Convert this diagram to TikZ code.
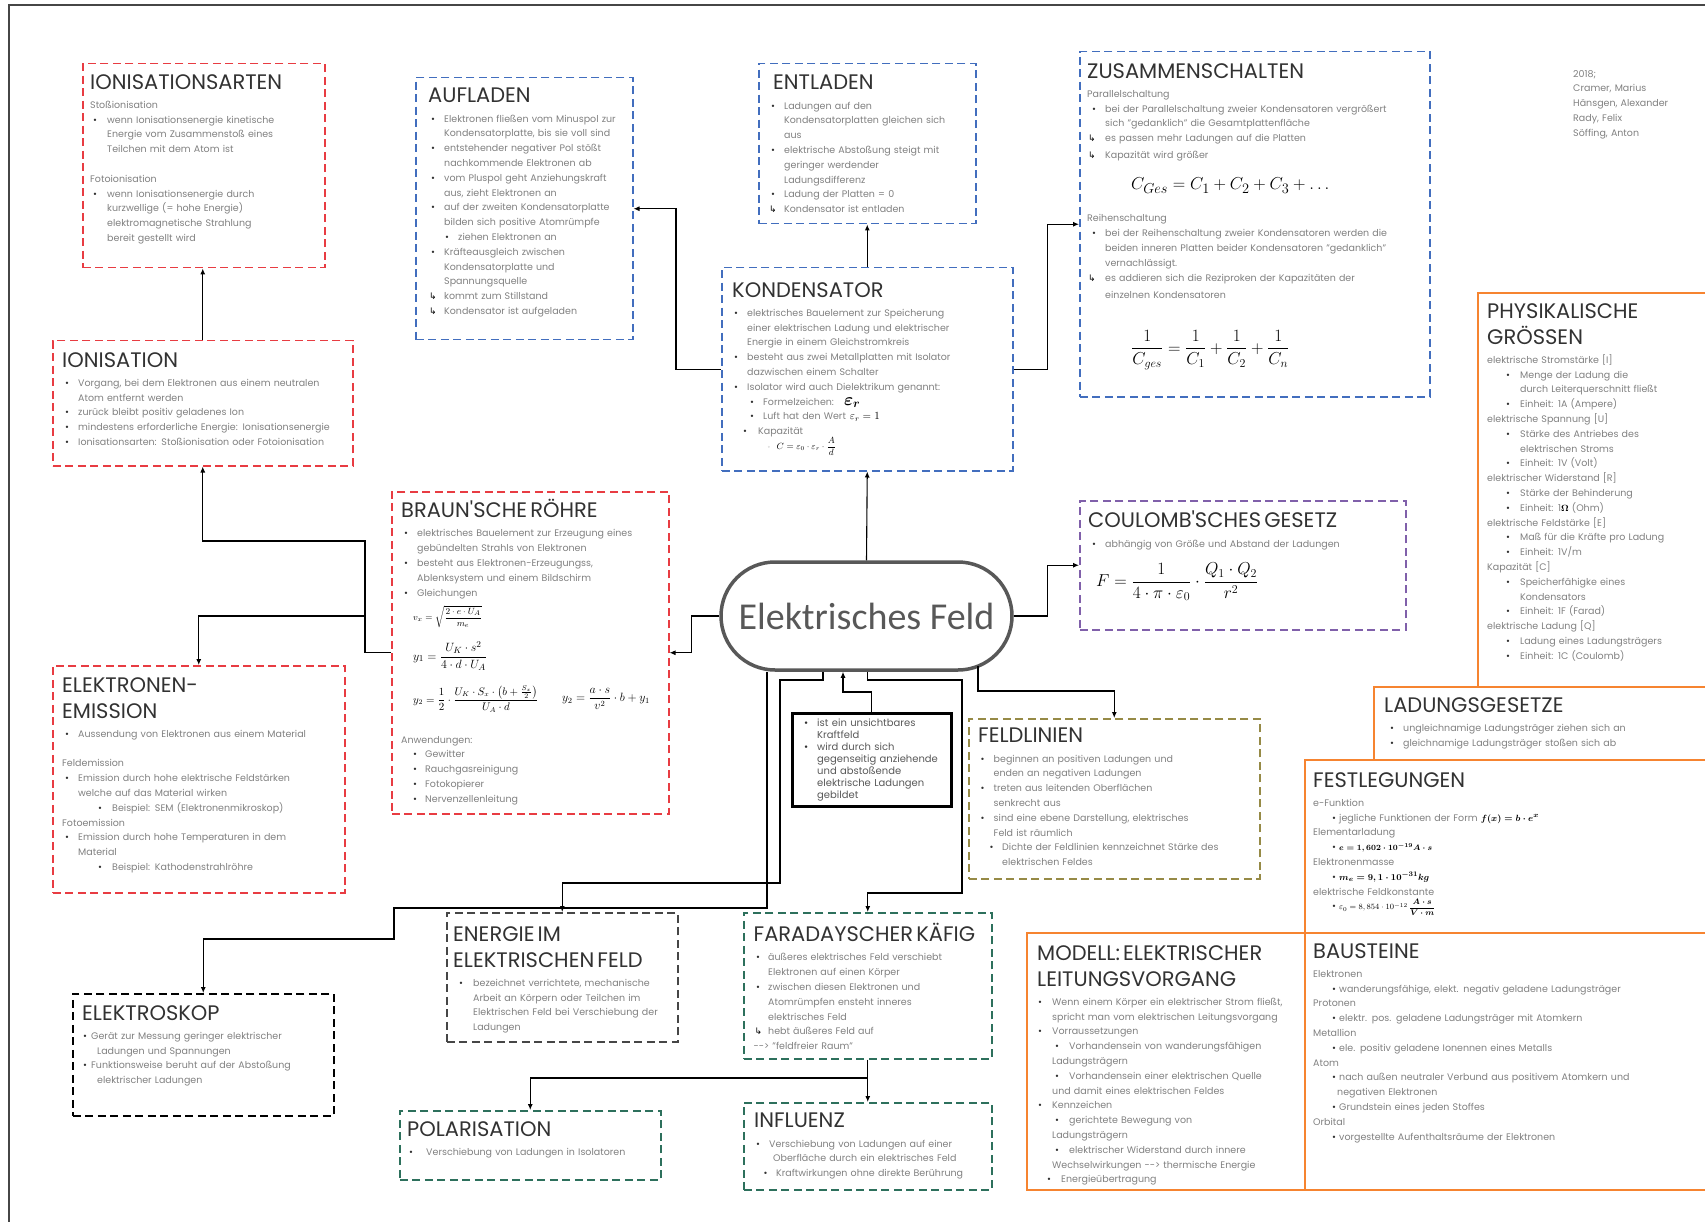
\documentclass[tikz,border=0pt]{standalone}
\usepackage{amsmath}
\usepackage[no-math]{fontspec}
\setmainfont{Poppins}
\newfontfamily\symfont{DejaVu Sans}
\newfontfamily\feldfont{Carlito}
\usetikzlibrary{arrows.meta}
\definecolor{ionred}{RGB}{232,60,66}
\definecolor{kondblue}{RGB}{66,110,190}
\definecolor{coulviolet}{RGB}{128,96,170}
\definecolor{feldolive}{RGB}{150,138,70}
\definecolor{farteal}{RGB}{45,112,92}
\definecolor{energray}{RGB}{70,70,70}
\definecolor{physorange}{RGB}{246,132,48}
\definecolor{txtgray}{RGB}{128,128,128}
\definecolor{titlegray}{RGB}{50,50,50}
\definecolor{feldgray}{RGB}{88,88,88}
\definecolor{framegray}{RGB}{70,70,70}
\newcommand{\bodysize}{\fontsize{9.5}{14.8}\selectfont}
\newcommand{\boxtitle}[1]{{\fontsize{21}{26}\selectfont\color{titlegray}#1\par}\vspace{4.5pt}}
\newcommand{\brk}{\hfil\break}
\newcommand{\hd}[1]{\par\noindent#1\par}
\newcommand{\itmh}[4]{\par\hangindent=#3\hangafter=1\noindent\hbox to #2{\hspace{#1}\textcolor{titlegray}{\textbullet}\hfil}\begingroup\let\\\brk#4\endgroup\par}
\newcommand{\itmx}[3]{\itmh{#1}{#2}{#2}{#3}}
\newcommand{\itm}[1]{\itmx{3pt}{16pt}{#1}}
\newcommand{\hkx}[2]{\par\hangindent=#1\hangafter=1\noindent\hbox to #1{\hspace{1pt}{\symfont\fontsize{9}{10}\selectfont\color{black}↳}\hfil}\begingroup\let\\\brk#2\endgroup\par}
\newcommand{\hk}[1]{\hkx{16pt}{#1}}
\newcommand{\mth}[1]{\textcolor{black}{$#1$}}
\tikzset{
  dbox/.style={draw=#1, line width=1.5pt, dash pattern=on 8pt off 4.5pt, anchor=north west, inner sep=0pt},
  obox/.style={draw=physorange, line width=2.2pt, anchor=north west, inner sep=0pt},
  txt/.style={anchor=north west, inner sep=0pt, text width=#1, align=left, font=\bodysize, text=txtgray},
  fml/.style={anchor=west, inner sep=0pt, text=black},
  conn/.style={draw=black, line width=1.1pt, -{Latex[length=6pt,width=5pt]}},
}

\begin{document}
\begin{tikzpicture}[x=1pt,y=-1pt]
\useasboundingbox (0,0) rectangle (1705,1222);
\draw[framegray, line width=1.5pt] (9,1222) -- (9,5);
\draw[framegray, line width=2.8pt] (8,5) -- (1705,5);
%boxes
\node[dbox=ionred, minimum width=242pt, minimum height=204pt] (ionarten) at (82,63) {};
\node[dbox=ionred, minimum width=300pt, minimum height=125pt] (ionisation) at (52,340) {};
\node[dbox=kondblue, minimum width=217pt, minimum height=262pt] (aufladen) at (415,77) {};
\node[dbox=kondblue, minimum width=217pt, minimum height=160pt] (entladen) at (758,63) {};
\node[dbox=kondblue, minimum width=350pt, minimum height=345pt] (zusammen) at (1079,51) {};
\node[dbox=kondblue, minimum width=291pt, minimum height=203pt] (kondensator) at (721,267) {};
\node[dbox=ionred, minimum width=277pt, minimum height=322pt] (braun) at (391,491) {};
\node[dbox=coulviolet, minimum width=326pt, minimum height=129pt] (coulomb) at (1079,500) {};
\node[dbox=ionred, minimum width=292pt, minimum height=227pt] (emission) at (52,665) {};
\node[dbox=black, minimum width=261pt, minimum height=122pt] (elektroskop) at (72,993) {};
\node[dbox=feldolive, minimum width=291pt, minimum height=160pt] (feldlinien) at (968,718) {};
\node[dbox=energray, minimum width=231pt, minimum height=129pt] (energie) at (446,912) {};
\node[dbox=farteal, minimum width=248pt, minimum height=146pt] (faraday) at (743,912) {};
\node[dbox=farteal, minimum width=261pt, minimum height=69pt] (polarisation) at (399,1110) {};
\node[dbox=farteal, minimum width=248pt, minimum height=87pt] (influenz) at (743,1102) {};
\node[obox, minimum width=235pt, minimum height=394pt] (phys) at (1477,292) {};
\node[obox, minimum width=339pt, minimum height=73pt] (gesetze) at (1373,686) {};
\node[obox, minimum width=408pt, minimum height=173pt] (festleg) at (1304,759) {};
\node[obox, minimum width=408pt, minimum height=257pt] (bausteine) at (1304,932) {};
\node[obox, minimum width=278pt, minimum height=257pt] (modell) at (1026,932) {};
\node[draw=black, line width=2.6pt, minimum width=159pt, minimum height=93pt, anchor=north west, inner sep=0pt] (kraft) at (791,712) {};
\node[draw=feldgray, line width=3.5pt, rounded corners=54pt, minimum width=291pt, minimum height=108pt, font=\feldfont\fontsize{38}{40}\selectfont, text=feldgray] (feld) at (866.5,616) {Elektrisches Feld};
%texts
\node[txt=240pt] (ionartentxt) at ([shift={(8,11)}]ionarten.north west) {\boxtitle{IONISATIONSARTEN}
\hd{Stoßionisation}
\itmx{3pt}{17pt}{wenn Ionisationsenergie kinetische\\Energie vom Zusammenstoß eines\\Teilchen mit dem Atom ist}
\vspace{14.8pt}
\hd{Fotoionisation}
\itmx{3pt}{17pt}{wenn Ionisationsenergie durch\\kurzwellige (= hohe Energie)\\elektromagnetische Strahlung\\bereit gestellt wird}};
\node[txt=320pt] (ionisationtxt) at ([shift={(10,12)}]ionisation.north west) {\boxtitle{IONISATION}
\itm{Vorgang, bei dem Elektronen aus einem neutralen\\Atom entfernt werden}
\itm{zurück bleibt positiv geladenes Ion}
\itm{mindestens erforderliche Energie: Ionisationsenergie}
\itm{Ionisationsarten: Stoßionisation oder Fotoionisation}};
\node[txt=230pt] (aufladentxt) at ([shift={(13,11)}]aufladen.north west) {\boxtitle{AUFLADEN}
\itm{Elektronen fließen vom Minuspol zur\\Kondensatorplatte, bis sie voll sind}
\itm{entstehender negativer Pol stößt\\nachkommende Elektronen ab}
\itm{vom Pluspol geht Anziehungskraft\\aus, zieht Elektronen an}
\itm{auf der zweiten Kondensatorplatte\\bilden sich positive Atomrümpfe}
\itmx{17pt}{30pt}{ziehen Elektronen an}
\itm{Kräfteausgleich zwischen\\Kondensatorplatte und\\Spannungsquelle}
\hk{kommt zum Stillstand}
\hk{Kondensator ist aufgeladen}};
\node[txt=230pt] (entladentxt) at ([shift={(10,12)}]entladen.north west) {\boxtitle{\hspace*{5pt}ENTLADEN}
\itm{Ladungen auf den\\Kondensatorplatten gleichen sich\\aus}
\itm{elektrische Abstoßung steigt mit\\geringer werdender\\Ladungsdifferenz}
\itm{Ladung der Platten = 0}
\hk{Kondensator ist entladen}};
\node[txt=345pt] (zusammentxt) at ([shift={(8,12)}]zusammen.north west) {\boxtitle{ZUSAMMENSCHALTEN}
\hd{Parallelschaltung}
\itmx{5pt}{18pt}{bei der Parallelschaltung zweier Kondensatoren vergrößert\\sich "gedanklich" die Gesamtplattenfläche}
\hkx{18pt}{es passen mehr Ladungen auf die Platten}
\vspace{1.5pt}
\hkx{18pt}{Kapazität wird größer}};
\node[txt=345pt] (reihentxt) at ([shift={(8,156)}]zusammen.north west) {\hd{Reihenschaltung}
\itmx{5pt}{18pt}{bei der Reihenschaltung zweier Kondensatoren werden die\\beiden inneren Platten beider Kondensatoren "gedanklich"\\vernachlässigt.}
\hkx{18pt}{es addieren sich die Reziproken der Kapazitäten der}
\vspace{3pt}
\hd{\hspace*{18pt}einzelnen Kondensatoren}};
\node[fml, font=\fontsize{19}{22}\selectfont] (cpar) at (1131,186) {$C_{Ges} = C_1 + C_2 + C_3 + \ldots$};
\node[fml, font=\fontsize{17.5}{20}\selectfont] (cser) at (1131,350) {$\dfrac{1}{C_{ges}} = \dfrac{1}{C_1} + \dfrac{1}{C_2} + \dfrac{1}{C_n}$};
\node[txt=300pt] (kondensatortxt) at ([shift={(11,15)}]kondensator.north west) {\boxtitle{KONDENSATOR}
\itmx{2pt}{15pt}{elektrisches Bauelement zur Speicherung\\einer elektrischen Ladung und elektrischer\\Energie in einem Gleichstromkreis}
\itmx{2pt}{15pt}{besteht aus zwei Metallplatten mit Isolator\\dazwischen einem Schalter}
\itmx{2pt}{15pt}{Isolator wird auch Dielektrikum genannt:}
\itmx{18pt}{31pt}{Formelzeichen:\hspace{10pt}\smash{\fontsize{18}{18}\selectfont\mth{\boldsymbol{\varepsilon_r}}}}
\itmx{18pt}{31pt}{Luft hat den Wert\hspace{4pt}{\fontsize{11}{12}\selectfont\mth{\varepsilon_r = 1}}}
\itmx{11pt}{26pt}{Kapazität}
\par\noindent\hspace*{35pt}{\symfont\fontsize{6}{7}\selectfont ◦}\hspace{6pt}{\fontsize{9}{10}\selectfont\mth{C = \varepsilon_0\cdot\varepsilon_r\cdot\dfrac{A}{d}}}};
\node[txt=275pt] (brauntxt) at ([shift={(10,8)}]braun.north west) {\boxtitle{BRAUN\textquotesingle SCHE RÖHRE}
\itm{elektrisches Bauelement zur Erzeugung eines\\gebündelten Strahls von Elektronen}
\itm{besteht aus Elektronen-Erzeugungss,\\Ablenksystem und einem Bildschirm}
\itm{Gleichungen}};
\node[txt=275pt] (anwendtxt) at ([shift={(10,237)}]braun.north west) {\hd{Anwendungen:}
\itmx{12pt}{24pt}{Gewitter}
\itmx{12pt}{24pt}{Rauchgasreinigung}
\itmx{12pt}{24pt}{Fotokopierer}
\itmx{12pt}{24pt}{Nervenzellenleitung}};
\node[fml, font=\fontsize{9.5}{11}\selectfont] (vx) at (413,617) {$v_x = \sqrt{\dfrac{2\cdot e\cdot U_A}{m_e}}$};
\node[fml, font=\fontsize{13}{15}\selectfont] (yeins) at (413,656) {$y_1 = \dfrac{U_K\cdot s^2}{4\cdot d\cdot U_A}$};
\node[fml, font=\fontsize{10.5}{12}\selectfont] (yzwei) at (413,699) {$y_2 = \dfrac{1}{2}\cdot\dfrac{U_K\cdot S_x\cdot\left(b+\frac{S_x}{2}\right)}{U_A\cdot d}$};
\node[fml, font=\fontsize{11.5}{13}\selectfont] (yzweib) at (562,699) {$y_2 = \dfrac{a\cdot s}{v^2}\cdot b + y_1$};
\node[txt=300pt] (emissiontxt) at ([shift={(10,12)}]emission.north west) {\boxtitle{ELEKTRONEN-\\EMISSION}
\itm{Aussendung von Elektronen aus einem Material}
\vspace{14.8pt}
\hd{Feldemission}
\itm{Emission durch hohe elektrische Feldstärken\\welche auf das Material wirken}
\itmx{36pt}{50pt}{Beispiel: SEM (Elektronenmikroskop)}
\hd{Fotoemission}
\itm{Emission durch hohe Temperaturen in dem\\Material}
\itmx{36pt}{50pt}{Beispiel: Kathodenstrahlröhre}};
\node[txt=260pt] (elektroskoptxt) at ([shift={(10,12)}]elektroskop.north west) {\boxtitle{ELEKTROSKOP}
\itmh{1pt}{9pt}{15pt}{Gerät zur Messung geringer elektrischer\\Ladungen und Spannungen}
\itmh{1pt}{9pt}{15pt}{Funktionsweise beruht auf der Abstoßung\\elektrischer Ladungen}};
\node[txt=320pt] (coulombtxt) at ([shift={(9,11)}]coulomb.north west) {\boxtitle{COULOMB\textquotesingle SCHES GESETZ}
\itmx{4pt}{17pt}{abhängig von Größe und Abstand der Ladungen}};
\node[fml, font=\fontsize{18.5}{20}\selectfont] (coulf) at (1096,582) {$F = \dfrac{1}{4\cdot\pi\cdot\varepsilon_0}\cdot\dfrac{Q_1\cdot Q_2}{r^2}$};
\node[txt=150pt, font=\fontsize{10}{12}\selectfont, text=feldgray] (krafttxt) at ([shift={(13,2)}]kraft.north west) {\itmx{0pt}{13pt}{ist ein unsichtbares\\Kraftfeld}
\itmx{0pt}{13pt}{wird durch sich\\gegenseitig anziehende\\und abstoßende\\elektrische Ladungen\\gebildet}};
\node[txt=290pt] (feldlinientxt) at ([shift={(10,10)}]feldlinien.north west) {\boxtitle{FELDLINIEN}
\itmx{2.5pt}{15.5pt}{beginnen an positiven Ladungen und\\enden an negativen Ladungen}
\itmx{2.5pt}{15.5pt}{treten aus leitenden Oberflächen\\senkrecht aus}
\itmx{2.5pt}{15.5pt}{sind eine ebene Darstellung, elektrisches\\Feld ist räumlich}
\itmx{11.5pt}{24pt}{Dichte der Feldlinien kennzeichnet Stärke des\\elektrischen Feldes}};
\node[txt=240pt] (energietxt) at ([shift={(7,14)}]energie.north west) {\boxtitle{ENERGIE IM\\ELEKTRISCHEN FELD}
\itmx{6pt}{20pt}{bezeichnet verrichtete, mechanische\\Arbeit an Körpern oder Teilchen im\\Elektrischen Feld bei Verschiebung der\\Ladungen}};
\node[txt=245pt] (faradaytxt) at ([shift={(10.5,11)}]faraday.north west) {\boxtitle{FARADAYSCHER KÄFIG}
\itmx{2.5pt}{14.5pt}{äußeres elektrisches Feld verschiebt\\Elektronen auf einen Körper}
\itmx{2.5pt}{14.5pt}{zwischen diesen Elektronen und\\Atomrümpfen ensteht inneres\\elektrisches Feld}
\hkx{14.5pt}{hebt äußeres Feld auf}
\hd{-{}-> "feldfreier Raum"}};
\node[txt=260pt] (polarisationtxt) at ([shift={(8,11)}]polarisation.north west) {\boxtitle{POLARISATION}
\itmx{2pt}{19pt}{Verschiebung von Ladungen in Isolatoren}};
\node[txt=240pt] (influenztxt) at ([shift={(11,11)}]influenz.north west) {\boxtitle{INFLUENZ}
\itmh{2pt}{15pt}{19pt}{Verschiebung von Ladungen auf einer\\Oberfläche durch ein elektrisches Feld}
\itmx{9.5pt}{22pt}{Kraftwirkungen ohne direkte Berührung}};
\node[txt=220pt] (phystxt) at ([shift={(10,11)}]phys.north west) {\boxtitle{PHYSIKALISCHE\\GRÖSSEN}
\hd{elektrische Stromstärke [I]}
\itmx{19pt}{33pt}{Menge der Ladung die\\durch Leiterquerschnitt fließt}
\itmx{19pt}{33pt}{Einheit: 1A (Ampere)}
\hd{elektrische Spannung [U]}
\itmx{19pt}{33pt}{Stärke des Antriebes des\\elektrischen Stroms}
\itmx{19pt}{33pt}{Einheit: 1V (Volt)}
\hd{elektrischer Widerstand [R]}
\itmx{19pt}{33pt}{Stärke der Behinderung}
\itmx{19pt}{33pt}{Einheit: 1\mth{\boldsymbol{\Omega}}\ (Ohm)}
\hd{elektrische Feldstärke [E]}
\itmx{19pt}{33pt}{Maß für die Kräfte pro Ladung}
\itmx{19pt}{33pt}{Einheit: 1V/m}
\hd{Kapazität [C]}
\itmx{19pt}{33pt}{Speicherfähigke eines\\Kondensators}
\itmx{19pt}{33pt}{Einheit: 1F (Farad)}
\hd{elektrische Ladung [Q]}
\itmx{19pt}{33pt}{Ladung eines Ladungsträgers}
\itmx{19pt}{33pt}{Einheit: 1C (Coulomb)}};
\node[txt=320pt] (gesetzetxt) at ([shift={(11,11)}]gesetze.north west) {\boxtitle{LADUNGSGESETZE}
\itmx{6pt}{19pt}{ungleichnamige Ladungsträger ziehen sich an}
\itmx{6pt}{19pt}{gleichnamige Ladungsträger stoßen sich ab}};
\node[txt=380pt] (festlegtxt) at ([shift={(9,13)}]festleg.north west) {\boxtitle{FESTLEGUNGEN}
\hd{e-Funktion}
\itmx{19pt}{26pt}{jegliche Funktionen der Form \mth{\boldsymbol{f(x) = b\cdot e^x}}}
\hd{Elementarladung}
\itmx{19pt}{26pt}{{\fontsize{8.5}{10}\selectfont\mth{\boldsymbol{e = 1,602\cdot 10^{-19} A\cdot s}}}}
\hd{Elektronenmasse}
\itmx{19pt}{26pt}{\mth{\boldsymbol{m_e = 9,1\cdot 10^{-31} kg}}}
\hd{elektrische Feldkonstante}
\itmx{19pt}{26pt}{{\fontsize{8}{10}\selectfont\mth{\varepsilon_0 = 8,854\cdot 10^{-12}\,\boldsymbol{\dfrac{A\cdot s}{V\cdot m}}}}}};
\node[txt=380pt] (bausteinetxt) at ([shift={(9,11)}]bausteine.north west) {\boxtitle{BAUSTEINE}
\hd{Elektronen}
\itmx{19pt}{26pt}{wanderungsfähige, elekt. negativ geladene Ladungsträger}
\hd{Protonen}
\itmx{19pt}{26pt}{elektr. pos. geladene Ladungsträger mit Atomkern}
\hd{Metallion}
\itmx{19pt}{26pt}{ele. positiv geladene Ionennen eines Metalls}
\hd{Atom}
\itmh{19pt}{26pt}{24pt}{nach außen neutraler Verbund aus positivem Atomkern und\\negativen Elektronen}
\itmx{19pt}{26pt}{Grundstein eines jeden Stoffes}
\hd{Orbital}
\itmx{19pt}{26pt}{vorgestellte Aufenthaltsräume der Elektronen}};
\node[txt=280pt] (modelltxt) at ([shift={(11,13)}]modell.north west) {\boxtitle{MODELL: ELEKTRISCHER\\LEITUNGSVORGANG}
\itmx{1pt}{15pt}{Wenn einem Körper ein elektrischer Strom fließt,\\spricht man vom elektrischen Leitungsvorgang}
\itmx{1pt}{15pt}{Vorraussetzungen}
\itmh{18pt}{32pt}{15pt}{Vorhandensein von wanderungsfähigen\\Ladungsträgern}
\itmh{18pt}{32pt}{15pt}{Vorhandensein einer elektrischen Quelle\\und damit eines elektrischen Feldes}
\itmx{1pt}{15pt}{Kennzeichen}
\itmh{18pt}{32pt}{15pt}{gerichtete Bewegung von\\Ladungsträgern}
\itmh{18pt}{32pt}{15pt}{elektrischer Widerstand durch innere\\Wechselwirkungen -{}-> thermische Energie}
\itmx{10pt}{24pt}{Energieübertragung}};
\node[txt=140pt] (autoren) at (1573,70) {2018;\\Cramer, Marius\\Hänsgen, Alexander\\Rady, Felix\\Söffing, Anton};
%connectors
\coordinate (bj) at (365,541);
\coordinate (bk) at (365,616);
\coordinate (fe1) at (767,908);
\coordinate (fe2) at (394,939);
\coordinate (en1) at (823,680);
\coordinate (en2) at (780,883);
\coordinate (kr1) at (843,692);
\coordinate (fa1) at (962,680);
\coordinate (fa2) at (962,893);
\coordinate (fl0) at (978,666);
\coordinate (fl1) at (978,691);
\coordinate (po1) at (867,1078);
\draw[conn] (ionisation.north) -- (ionisation.north |- ionarten.south);
\draw[conn] (kondensator.north) -- (entladen.south);
\draw[conn] (kondensator.west) -- ++(-45,0) |- (aufladen.east);
\draw[conn] (kondensator.east) -- ++(34,0) |- (zusammen.west);
\draw[conn] (feld.north) -- (kondensator.south);
\draw[conn] (feld.east) -- ++(34,0) |- (coulomb.west);
\draw[conn] (feld.west) -- ++(-28,0) |- (braun.east);
\draw[conn] (braun.west) -| (bj) -| (ionisation.south);
\draw[conn] (bk) -| (emission.north);
\draw[conn] (feld.south -| fe1) -- (fe1) -| (fe2) -| (elektroskop.north);
\draw[conn] (feld.south -| en1) -- (en1) -| (en2) -| (energie.north);
\draw[conn] (kraft.north) |- (kr1) -- (kr1 |- feld.south);
\draw[conn] (feld.south -| faraday.north) |- (fa1) -- (fa2) -| (faraday.north);
\draw[conn] (fl0) -- (fl1) -| (feldlinien.north);
\draw[conn] (faraday.south) -- (influenz.north);
\draw[conn] (po1) -| (polarisation.north);
\end{tikzpicture}
\end{document}
